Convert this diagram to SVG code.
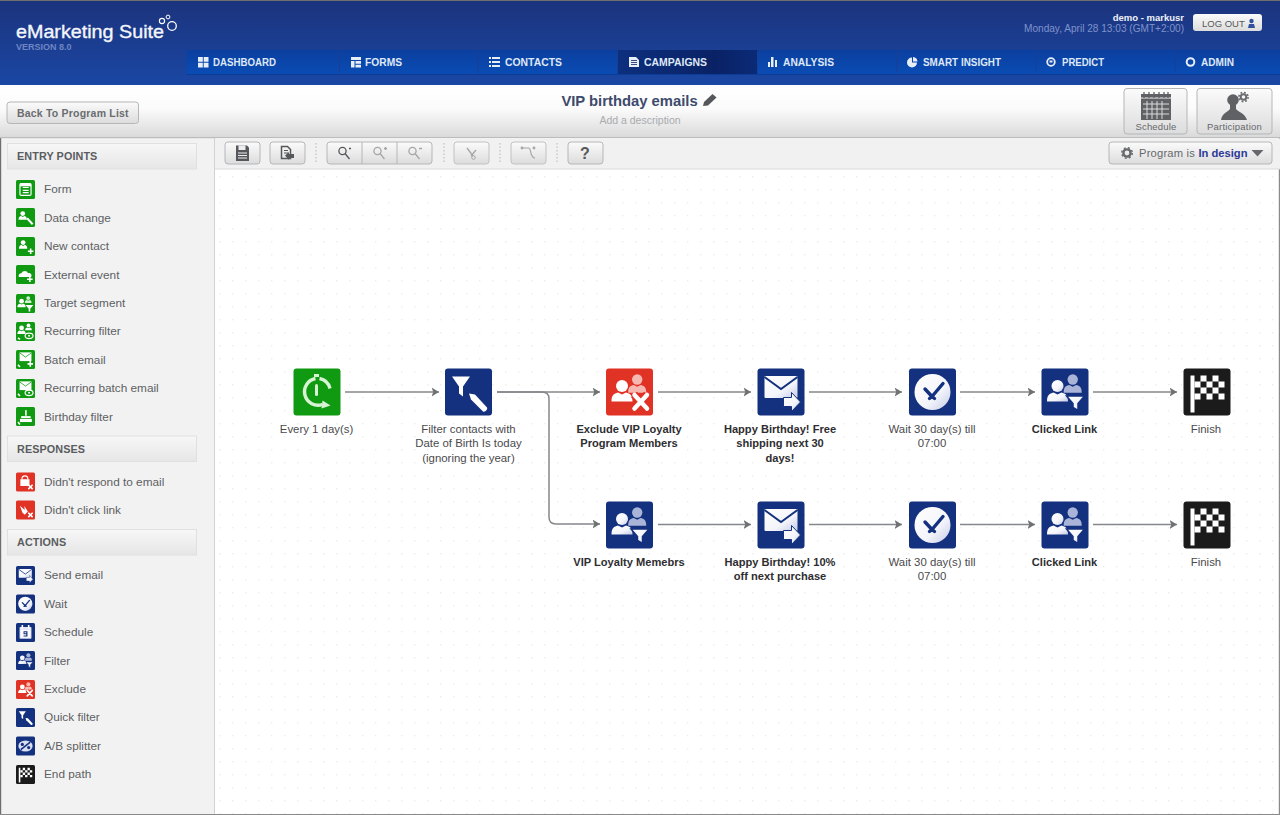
<svg xmlns="http://www.w3.org/2000/svg" width="1280" height="815" viewBox="0 0 1280 815">
<style>
text{font-family:"Liberation Sans",Arial,sans-serif}
.nav{font-size:10px;font-weight:700;fill:#dfe8f6}
.navi{fill:#e8eef8}
.side{font-size:11.8px;fill:#5d5f63}
.head{font-size:10.8px;font-weight:700;fill:#5a5c5f;letter-spacing:.1px}
.lbl{font-size:11.4px;fill:#4a4a4d;text-anchor:middle}
.b{font-size:11.1px;font-weight:700;fill:#2e2e30}
.btn{fill:url(#btn);stroke:#b4b6b8;stroke-width:1}
.btnd{fill:url(#btn);stroke:#c0c2c4;stroke-width:1}
.tool{fill:#55575a}
.conn{fill:none;stroke:#85878a;stroke-width:1.5;marker-end:url(#arrow)}
.g{fill:#0f9a12}.n{fill:#14317f}.r{fill:#e03225}.k{fill:#1b1b1b}
</style>
<defs>
<linearGradient id="hdr" x1="0" y1="0" x2="0" y2="1"><stop offset="0" stop-color="#1c337c"/><stop offset="1" stop-color="#1a47a4"/></linearGradient>
<linearGradient id="navg" x1="0" y1="0" x2="0" y2="1"><stop offset="0" stop-color="#0b3f9f"/><stop offset="1" stop-color="#0a4cb4"/></linearGradient>
<linearGradient id="nava" x1="0" y1="0" x2="1" y2="0"><stop offset="0" stop-color="#0d2f7e"/><stop offset=".7" stop-color="#0a2265"/><stop offset="1" stop-color="#0a2a78"/></linearGradient>
<linearGradient id="bar" x1="0" y1="0" x2="0" y2="1"><stop offset="0" stop-color="#ffffff"/><stop offset=".45" stop-color="#fbfbfb"/><stop offset="1" stop-color="#d9d9da"/></linearGradient>
<linearGradient id="btn" x1="0" y1="0" x2="0" y2="1"><stop offset="0" stop-color="#fbfbfb"/><stop offset="1" stop-color="#dcdcdc"/></linearGradient>
<linearGradient id="sh" x1="0" y1="0" x2="0" y2="1"><stop offset="0" stop-color="#f7f7f7"/><stop offset="1" stop-color="#e6e6e6"/></linearGradient>
<linearGradient id="wg" x1="0" y1="0" x2="1" y2="1"><stop offset="0" stop-color="#ffffff"/><stop offset=".6" stop-color="#f4f5fb"/><stop offset="1" stop-color="#c5cbe6"/></linearGradient>
<pattern id="dots" x="219" y="176" width="13" height="13" patternUnits="userSpaceOnUse"><rect width="1.4" height="1.4" fill="#ececec"/></pattern>
<marker id="arrow" markerWidth="10" markerHeight="10" refX="7.5" refY="4.5" orient="auto" markerUnits="userSpaceOnUse"><path d="M0 0L7.500 4.500L0 9L1.800 4.500Z" fill="#6f7174"/></marker>
<g id="person"><circle cx="0" cy="-6" r="6"/><path d="M-10.500 9.500C-10.500 3-8 1.500-4 .5L0 2.500L4 .5C8 1.500 10.500 3 10.500 9.500Z"/></g>
<g id="mail"><rect x="7" y="7.500" width="33" height="22" rx="1" fill="url(#wg)"/><path d="M7 8.500L23.500 20.500L40 8.500" fill="none" stroke="#14317f" stroke-width="2"/><path d="M26 29H34V24L43 33.500L34 43V38H26Z" fill="url(#wg)" stroke="#14317f" stroke-width="1"/></g>
<g id="clock"><circle cx="23.500" cy="23.500" r="18" fill="url(#wg)"/><path d="M23 28L34 15M23 28L16 20.500M23 28L20.500 30M23 28L25.500 30" stroke="#14317f" stroke-width="3.400" stroke-linecap="round" fill="none"/></g>
<g id="filterp"><use href="#person" x="27" y="13" transform="translate(8 5) scale(.86)" fill="#a9b4d8"/><use href="#person" x="16" y="23.500" fill="url(#wg)"/><path d="M25 27.500H43L36.500 35V42L31.500 39V35Z" fill="url(#wg)" stroke="#14317f" stroke-width="1.500"/></g>
<g id="excl"><use href="#person" x="27" y="13" transform="translate(8 5) scale(.86)" fill="#f6b9b2"/><use href="#person" x="16" y="23.500" fill="#fff"/><path d="M28 26L41 40M41 26L28 40" stroke="#e03225" stroke-width="8"/><path d="M28.500 26.500L41 40M41 26.500L28.500 40" stroke="#fff" stroke-width="4.500" stroke-linecap="round"/></g>
<g id="quick"><path d="M7 8H25L18 18V28L14 25V18Z" fill="#fff"/><path d="M24 25L30 26L42 39C43 41 40 44 38 43L26 31Z" fill="#fff"/></g>
<g id="recur"><g fill="none" stroke="#d8f2d4" stroke-width="3.400"><path d="M22 10A13.500 13.500 0 1 0 29 36"/><path d="M26 10A13.500 13.500 0 0 1 36.500 20"/></g><path d="M20.500 5.500H25.500V8.500H20.500Z" fill="#d8f2d4"/><path d="M23 17V26" stroke="#d8f2d4" stroke-width="3" stroke-linecap="round"/><path d="M29 32L37 37L28 40Z" fill="#d8f2d4"/></g>
<g id="flag"><rect x="7" y="7" width="4" height="37" fill="#fff"/><path fill="#fff" d="M17 7h6v6h-6zM29 7h6v6h-6zM11 13h6v6h-6zM23 13h6v6h-6zM35 13h6v6h-6zM17 19h6v6h-6zM29 19h6v6h-6zM11 25h6v6h-6zM23 25h6v6h-6zM35 25h6v6h-6z"/></g>
<g id="s-form"><rect x="10" y="9" width="28" height="30" rx="3" fill="none" stroke="#fff" stroke-width="3"/><path d="M17 19H32M17 26H32M17 32H32" stroke="#fff" stroke-width="3"/><rect x="10" y="9" width="28" height="7" fill="#fff"/></g>
<g id="s-data"><use href="#person" x="17" y="20" fill="#fff"/><path d="M28 26L42 41" stroke="#fff" stroke-width="5"/></g>
<g id="s-new"><use href="#person" x="18" y="20" fill="#fff"/><path d="M37 29V43M30 36H44" stroke="#fff" stroke-width="4"/></g>
<g id="s-ext"><path d="M7 30C5 23 11 20 14 21C16 13 28 13 30 20C37 19 42 25 38 30Z" fill="#fff"/><path d="M35 29V43M28 36H42" stroke="#fff" stroke-width="4"/></g>
<g id="s-tgt"><use href="#person" x="14" y="24" fill="#fff"/><use href="#person" x="31" y="15" transform="translate(6 3) scale(.8)" fill="#d5f0d2"/><path d="M24 28H44L36 37V44H32V37Z" fill="#fff"/></g>
<g id="s-rec"><use href="#person" x="14" y="21" fill="#fff"/><use href="#person" x="32" y="13" transform="translate(6 3) scale(.8)" fill="#fff"/><ellipse cx="33" cy="35" rx="10" ry="7" fill="none" stroke="#fff" stroke-width="3"/><circle cx="33" cy="35" r="2.500" fill="#fff"/><path d="M5 40L10 44" stroke="#fff" stroke-width="4"/></g>
<g id="s-bat"><rect x="9" y="6" width="30" height="22" fill="#fff"/><path d="M9 7L24 18L39 7" stroke="#0f9a12" stroke-width="2" fill="none"/><path d="M36 28V42M29 35H43" stroke="#fff" stroke-width="4"/><path d="M5 37L10 43" stroke="#fff" stroke-width="4"/></g>
<g id="s-rbt"><rect x="9" y="6" width="30" height="22" fill="#fff"/><path d="M9 7L24 18L39 7" stroke="#0f9a12" stroke-width="2" fill="none"/><ellipse cx="33" cy="35" rx="10" ry="7" fill="none" stroke="#fff" stroke-width="3"/><circle cx="33" cy="35" r="2.500" fill="#fff"/><path d="M5 37L10 43" stroke="#fff" stroke-width="4"/></g>
<g id="s-bir"><rect x="10" y="30" width="30" height="8" fill="#fff"/><rect x="13" y="23" width="24" height="5" fill="#fff"/><rect x="23" y="8" width="4" height="14" fill="#fff"/><path d="M5 38L10 44" stroke="#fff" stroke-width="4"/></g>
<g id="s-resp"><rect x="11" y="17" width="23" height="17" fill="#fff"/><path d="M15 17C15 6 30 6 30 17" fill="none" stroke="#fff" stroke-width="3"/><path d="M31 31L42 42M42 31L31 42" stroke="#fff" stroke-width="4"/></g>
<g id="s-link"><path d="M10 13L22 24L21 14L30 28L22 36L16 30Z" fill="#fff"/><path d="M31 31L42 42M42 31L31 42" stroke="#fff" stroke-width="4"/></g>
<g id="s-sch"><rect x="9" y="10" width="30" height="30" rx="2" fill="#dfe4f2"/><rect x="14" y="5" width="4" height="9" fill="#fff"/><rect x="30" y="5" width="4" height="9" fill="#fff"/><rect x="12" y="17" width="24" height="20" fill="#fff"/><path d="M19 21h10v13h-10v-2.500h7v-3h-7zM21.500 23.500v2.500h4.500v-2.500z" fill="#14317f" fill-rule="evenodd"/></g>
<g id="s-ab"><ellipse cx="24" cy="24" rx="18" ry="14" fill="#d9dff0"/><path d="M12 33L36 14" stroke="#14317f" stroke-width="4"/><circle cx="16" cy="20" r="4" fill="#14317f"/><circle cx="32" cy="28" r="4" fill="#14317f"/></g>
</defs>

<g id="background">
<rect width="1280" height="815" fill="#ffffff"/>
<rect x="216" y="170" width="1062" height="644" fill="url(#dots)"/>
<rect x="0" y="138" width="214" height="677" fill="#f2f2f2"/>
<rect x="214" y="138" width="1" height="677" fill="#d2d2d2"/>
<rect x="0" y="0" width="1.200" height="815" fill="#6e6e6e"/>
<rect x="1278.800" y="0" width="1.200" height="815" fill="#8a8a8a"/>
<rect x="0" y="814" width="1280" height="1" fill="#8a8a8a"/>
</g>

<g id="header">
<rect x="0" y="0" width="1280" height="85" fill="url(#hdr)"/>
<rect x="0" y="0" width="1280" height="1" fill="#6f6f6f"/>
<text x="16" y="37.500" font-size="18.500" fill="#f4f6fb" textLength="148" lengthAdjust="spacingAndGlyphs" stroke="#f4f6fb" stroke-width=".35">eMarketing Suite</text>
<circle cx="172" cy="26" r="4.300" fill="none" stroke="#fff" stroke-width="1.300"/><circle cx="162" cy="21" r="2.600" fill="none" stroke="#fff" stroke-width="1.100"/><circle cx="168" cy="17" r="1.900" fill="none" stroke="#fff" stroke-width="1"/>
<text x="16" y="49.500" font-size="9" font-weight="700" fill="#6f86c4">VERSION 8.0</text>
<text x="1184" y="21" font-size="9.500" font-weight="700" fill="#eef2fa" text-anchor="end">demo - markusr</text>
<text x="1184" y="32" font-size="10.100" fill="#7f93cb" text-anchor="end">Monday, April 28 13:03 (GMT+2:00)</text>
<rect x="1193" y="14" width="69" height="17" rx="3" fill="url(#btn)"/>
<text x="1202" y="27" font-size="9.500" fill="#55575a">LOG OUT</text>
<circle cx="1251.500" cy="21" r="2.200" fill="#33509a"/><path d="M1248 28L1249 24H1254L1255 28Z" fill="#33509a"/>
</g>

<g id="navigation">
<rect x="186" y="50" width="1094" height="24" fill="url(#navg)"/>
<rect x="186" y="74" width="1094" height="1" fill="#0c3c96"/>
<rect x="617.500" y="50" width="140" height="24" fill="url(#nava)"/>
<path d="M339.500 51V73M478 51V73M617.500 51V73M757.500 51V73M897 51V73M1036 51V73M1175 51V73" stroke="#1a3f92" stroke-width="1"/>
<path class="navi" d="M198 57h4.800v4.800H198zM203.700 57h4.800v4.800h-4.800zM198 62.700h4.800v4.800H198zM203.700 62.700h4.800v4.800h-4.800z"/>
<text class="nav" x="213" y="66" textLength="63" lengthAdjust="spacingAndGlyphs">DASHBOARD</text>
<path class="navi" d="M351 57h10v3h-10zM351 61h3.500v6.500H351zM355.500 61H361v2.800h-5.500zM355.500 64.800H361v2.700h-5.500z"/>
<text class="nav" x="365" y="66" textLength="37" lengthAdjust="spacingAndGlyphs">FORMS</text>
<path class="navi" d="M489 57h2v2h-2zM492 57h8v2h-8zM489 61h2v2h-2zM492 61h8v2h-8zM489 65h2v2h-2zM492 65h8v2h-8z"/>
<text class="nav" x="505" y="66" textLength="57" lengthAdjust="spacingAndGlyphs">CONTACTS</text>
<path class="navi" d="M629 57h7l3 3v7h-10z"/><path d="M631 60.500h6M631 62.500h6M631 64.500h6" stroke="#0a2265" stroke-width=".8"/>
<text class="nav" x="644" y="66" textLength="63" lengthAdjust="spacingAndGlyphs">CAMPAIGNS</text>
<path class="navi" d="M768 62h2v5h-2zM771 57h2.500v10H771zM775 60h2v7h-2z"/>
<text class="nav" x="783" y="66" textLength="51" lengthAdjust="spacingAndGlyphs">ANALYSIS</text>
<path class="navi" d="M912 57.500A5 5 0 1 0 917 62.500H912Z"/><path class="navi" d="M913 57A5 5 0 0 1 917.500 61.500H913Z"/>
<text class="nav" x="923" y="66" textLength="78" lengthAdjust="spacingAndGlyphs">SMART INSIGHT</text>
<circle cx="1051" cy="62" r="3.800" fill="none" stroke="#e8eef8" stroke-width="1.800"/><rect x="1049.500" y="60.500" width="3" height="2" fill="#e8eef8"/>
<text class="nav" x="1062" y="66" textLength="42" lengthAdjust="spacingAndGlyphs">PREDICT</text>
<circle cx="1190.500" cy="62" r="3.800" fill="none" stroke="#e8eef8" stroke-width="2"/>
<text class="nav" x="1201" y="66" textLength="33" lengthAdjust="spacingAndGlyphs">ADMIN</text>
</g>

<g id="titlebar">
<rect x="0" y="85" width="1280" height="53" fill="url(#bar)"/>
<rect x="0" y="137" width="1280" height="1.200" fill="#bcbcbc"/>
<rect class="btn" x="7" y="102" width="131.500" height="21.500" rx="3"/>
<text x="17" y="117" font-size="10.500" font-weight="700" fill="#6a6c6f" letter-spacing=".2">Back To Program List</text>
<text x="629.500" y="106" font-size="14.800" font-weight="700" fill="#3c4a6c" text-anchor="middle">VIP birthday emails</text>
<path d="M703 106L704 102L712.500 94L716.500 97.500L708 105.500Z" fill="#55575a"/>
<text x="640" y="124" font-size="10.500" fill="#a9abad" text-anchor="middle">Add a description</text>
<rect class="btn" x="1124" y="88.500" width="63" height="45.500" rx="3"/>
<rect x="1141" y="94" width="30" height="26" fill="#5f6165"/>
<path d="M1141 98h30" stroke="#f4f4f4" stroke-width="1"/>
<path d="M1144 92v6M1149 92v6M1154 92v6M1159 92v6M1164 92v6M1168 92v6" stroke="#5f6165" stroke-width="1.300"/>
<path d="M1143 104h26M1143 109h26M1143 114h26M1147 101v18M1152 101v18M1157 101v18M1162 101v18" stroke="#dcdcdc" stroke-width="1"/>
<text x="1156" y="130" font-size="9.500" fill="#66686b" text-anchor="middle" letter-spacing=".2">Schedule</text>
<rect class="btn" x="1197" y="88.500" width="75" height="45.500" rx="3"/>
<circle cx="1233" cy="100" r="5.800" fill="#5f6165"/><path d="M1221 120C1222 113 1228 112 1230 109V104H1236V109C1238 112 1245 113 1247 120Z" fill="#5f6165"/>
<circle cx="1243.500" cy="97" r="2.800" fill="none" stroke="#6a6c70" stroke-width="2"/><circle cx="1243.500" cy="97" r="4.600" fill="none" stroke="#6a6c70" stroke-width="1.600" stroke-dasharray="1.800 1.800"/>
<text x="1234.500" y="130" font-size="9.500" fill="#66686b" text-anchor="middle" letter-spacing=".2">Participation</text>
</g>

<g id="toolbar">
<rect x="215" y="138.500" width="1065" height="30.500" fill="#f1f1f1"/>
<rect x="215" y="168.500" width="1065" height="1" fill="#dadada"/>
<rect class="btn" x="225" y="142" width="35" height="22" rx="3"/>
<path class="tool" d="M236 145.500h11l2 2v13.500h-13z"/><rect x="238.500" y="145.500" width="7" height="4.500" fill="#eee"/><path d="M238 153h9M238 155.500h9M238 158h9" stroke="#eee" stroke-width="1"/>
<rect class="btn" x="270" y="142" width="35" height="22" rx="3"/>
<path d="M281.500 146.500h6l3 3v9h-9z" fill="none" stroke="#55575a" stroke-width="1.500"/><path d="M284 150.500h4M284 153h4" stroke="#55575a"/><path class="tool" d="M285 155.500l4-3.500v2h5v4h-5v2z"/>
<rect class="btn" x="327" y="142" width="105" height="22" rx="3"/>
<path d="M362 142V164M397 142V164" stroke="#b4b6b8"/>
<g fill="none" stroke="#55575a" stroke-width="1.300"><circle cx="342.500" cy="151" r="3.600"/><path d="M345 153.500L349.500 159M349 148.500h2"/></g>
<g fill="none" stroke="#a4a6a8" stroke-width="1.300"><circle cx="377.500" cy="151" r="3.600"/><path d="M380 153.500L384.500 159M384 148.500h3M385.500 147v3"/><circle cx="412.500" cy="151" r="3.600"/><path d="M415 153.500L419.500 159M419 148.500h3"/></g>
<rect class="btnd" x="454" y="142" width="35" height="22" rx="3"/>
<path d="M467 148L473 156M476 150L471 156" stroke="#a4a6a8" stroke-width="1.300"/><circle cx="473.500" cy="157.500" r="1.800" fill="none" stroke="#a4a6a8"/>
<rect class="btnd" x="511" y="142" width="35" height="22" rx="3"/>
<path d="M522 148H529C531 148 530 158 535 158" fill="none" stroke="#a4a6a8" stroke-width="1.200"/><circle cx="522" cy="148" r="1.400" fill="#a4a6a8"/><circle cx="534" cy="148" r="1.400" fill="#a4a6a8"/>
<rect class="btn" x="568" y="142" width="35" height="22" rx="3"/>
<text x="585" y="159" font-size="16" font-weight="700" fill="#55575a" text-anchor="middle">?</text>
<path d="M316 143V164M444 143V164M500 143V164M557 143V164" stroke="#b6b6b6" stroke-dasharray="1.500 2"/>
<rect class="btn" x="1109" y="142" width="163" height="22" rx="3"/>
<circle cx="1127" cy="153" r="3.600" fill="none" stroke="#66686b" stroke-width="2.400"/><circle cx="1127" cy="153" r="5.300" fill="none" stroke="#66686b" stroke-width="1.400" stroke-dasharray="2 2.200"/>
<text x="1139" y="157" font-size="11.200" fill="#66686b" letter-spacing=".2">Program is <tspan font-weight="700" fill="#2c3a96" letter-spacing="0">In design</tspan></text>
<path d="M1251.500 150H1263.500L1257.500 156.500Z" fill="#66686b"/>
</g>

<g id="sidebar">
<g id="panel-entry">
<rect x="7.500" y="143.500" width="189" height="25.500" fill="url(#sh)" stroke="#e0e0e0"/>
<text class="head" x="17" y="160">ENTRY POINTS</text>
</g>
<g id="side-form"><rect class="g" x="16" y="180" width="19" height="19" rx="1.500"/><use href="#s-form" transform="translate(16 180) scale(.396)"/><text class="side" x="44" y="193">Form</text></g>
<g id="side-data"><rect class="g" x="16" y="208" width="19" height="19" rx="1.500"/><use href="#s-data" transform="translate(16 208) scale(.396)"/><text class="side" x="44" y="221.500">Data change</text></g>
<g id="side-new"><rect class="g" x="16" y="237" width="19" height="19" rx="1.500"/><use href="#s-new" transform="translate(16 237) scale(.396)"/><text class="side" x="44" y="250">New contact</text></g>
<g id="side-ext"><rect class="g" x="16" y="265" width="19" height="19" rx="1.500"/><use href="#s-ext" transform="translate(16 265) scale(.396)"/><text class="side" x="44" y="278.500">External event</text></g>
<g id="side-tgt"><rect class="g" x="16" y="294" width="19" height="19" rx="1.500"/><use href="#s-tgt" transform="translate(16 294) scale(.396)"/><text class="side" x="44" y="307">Target segment</text></g>
<g id="side-rec"><rect class="g" x="16" y="322" width="19" height="19" rx="1.500"/><use href="#s-rec" transform="translate(16 322) scale(.396)"/><text class="side" x="44" y="335">Recurring filter</text></g>
<g id="side-bat"><rect class="g" x="16" y="350" width="19" height="19" rx="1.500"/><use href="#s-bat" transform="translate(16 350) scale(.396)"/><text class="side" x="44" y="363.500">Batch email</text></g>
<g id="side-rbt"><rect class="g" x="16" y="379" width="19" height="19" rx="1.500"/><use href="#s-rbt" transform="translate(16 379) scale(.396)"/><text class="side" x="44" y="392">Recurring batch email</text></g>
<g id="side-bir"><rect class="g" x="16" y="407" width="19" height="19" rx="1.500"/><use href="#s-bir" transform="translate(16 407) scale(.396)"/><text class="side" x="44" y="420.500">Birthday filter</text></g>
<g id="panel-resp">
<rect x="7.500" y="436" width="189" height="25.500" fill="url(#sh)" stroke="#e0e0e0"/>
<text class="head" x="17" y="452.500">RESPONSES</text>
</g>
<g id="side-resp"><rect class="r" x="16" y="472.500" width="19" height="19" rx="1.500"/><use href="#s-resp" transform="translate(16 472.500) scale(.396)"/><text class="side" x="44" y="485.500">Didn't respond to email</text></g>
<g id="side-link"><rect class="r" x="16" y="500.500" width="19" height="19" rx="1.500"/><use href="#s-link" transform="translate(16 500.500) scale(.396)"/><text class="side" x="44" y="514">Didn't click link</text></g>
<g id="panel-act">
<rect x="7.500" y="529.500" width="189" height="25.500" fill="url(#sh)" stroke="#e0e0e0"/>
<text class="head" x="17" y="546">ACTIONS</text>
</g>
<g id="side-send"><rect class="n" x="16" y="566" width="19" height="19" rx="1.500"/><use href="#mail" transform="translate(16 566) scale(.396)"/><text class="side" x="44" y="579">Send email</text></g>
<g id="side-wait"><rect class="n" x="16" y="594.500" width="19" height="19" rx="1.500"/><use href="#clock" transform="translate(16 594.500) scale(.396)"/><text class="side" x="44" y="607.500">Wait</text></g>
<g id="side-sch"><rect class="n" x="16" y="623" width="19" height="19" rx="1.500"/><use href="#s-sch" transform="translate(16 623) scale(.396)"/><text class="side" x="44" y="636">Schedule</text></g>
<g id="side-fil"><rect class="n" x="16" y="651" width="19" height="19" rx="1.500"/><use href="#filterp" transform="translate(16 651) scale(.396)"/><text class="side" x="44" y="664.500">Filter</text></g>
<g id="side-exc"><rect class="r" x="16" y="680" width="19" height="19" rx="1.500"/><use href="#excl" transform="translate(16 680) scale(.396)"/><text class="side" x="44" y="693">Exclude</text></g>
<g id="side-qf"><rect class="n" x="16" y="708" width="19" height="19" rx="1.500"/><use href="#quick" transform="translate(16 708) scale(.396)"/><text class="side" x="44" y="721">Quick filter</text></g>
<g id="side-ab"><rect class="n" x="16" y="736.500" width="19" height="19" rx="1.500"/><use href="#s-ab" transform="translate(16 736.500) scale(.396)"/><text class="side" x="44" y="749.500">A/B splitter</text></g>
<g id="side-end"><rect class="k" x="16" y="765" width="19" height="19" rx="1.500"/><use href="#flag" transform="translate(16 765) scale(.396)"/><text class="side" x="44" y="778">End path</text></g>
</g>

<g id="connectors">
<path class="conn" d="M345 392H439"/>
<path class="conn" d="M497 392H600"/>
<path class="conn" d="M497 392H542Q549 392 549 399V517Q549 524 556 524H600"/>
<path class="conn" d="M658 392H751"/>
<path class="conn" d="M809 392H902"/>
<path class="conn" d="M960 392H1035"/>
<path class="conn" d="M1093 392H1177"/>
<path class="conn" d="M658 524.500H751"/>
<path class="conn" d="M809 524.500H902"/>
<path class="conn" d="M960 524.500H1035"/>
<path class="conn" d="M1093 524.500H1177"/>
</g>

<g id="node-every"><rect class="g" x="293.500" y="368.500" width="47" height="47" rx="3"/><use href="#recur" transform="translate(293.500 368.500)"/><text class="lbl" x="316.500" y="433">Every 1 day(s)</text></g>
<g id="node-filter"><rect class="n" x="445" y="368.500" width="47" height="47" rx="3"/><use href="#quick" transform="translate(445 368.500)"/><text class="lbl" x="468.500" y="433">Filter contacts with</text><text class="lbl" x="468.500" y="447">Date of Birth Is today</text><text class="lbl" x="468.500" y="461.500">(ignoring the year)</text></g>
<g id="node-exclude"><rect class="r" x="606" y="368.500" width="47" height="47" rx="3"/><use href="#excl" transform="translate(606 368.500)"/><text class="lbl b" x="629" y="433">Exclude VIP Loyalty</text><text class="lbl b" x="629" y="447">Program Members</text></g>
<g id="node-mail1"><rect class="n" x="757.500" y="368.500" width="47" height="47" rx="3"/><use href="#mail" transform="translate(757.500 368.500)"/><text class="lbl b" x="780" y="433">Happy Birthday! Free</text><text class="lbl b" x="780" y="447">shipping next 30</text><text class="lbl b" x="780" y="461.500">days!</text></g>
<g id="node-wait1"><rect class="n" x="909" y="368.500" width="47" height="47" rx="3"/><use href="#clock" transform="translate(909 368.500)"/><text class="lbl" x="932" y="433">Wait 30 day(s) till</text><text class="lbl" x="932" y="447">07:00</text></g>
<g id="node-click1"><rect class="n" x="1041.500" y="368.500" width="47" height="47" rx="3"/><use href="#filterp" transform="translate(1041.500 368.500)"/><text class="lbl b" x="1064.500" y="433">Clicked Link</text></g>
<g id="node-finish1"><rect class="k" x="1183.500" y="368.500" width="47" height="47" rx="3"/><use href="#flag" transform="translate(1183.500 368.500)"/><text class="lbl" x="1206" y="433">Finish</text></g>
<g id="node-vip"><rect class="n" x="606" y="501.500" width="47" height="47" rx="3"/><use href="#filterp" transform="translate(606 501.500)"/><text class="lbl b" x="629" y="566">VIP Loyalty Memebrs</text></g>
<g id="node-mail2"><rect class="n" x="757.500" y="501.500" width="47" height="47" rx="3"/><use href="#mail" transform="translate(757.500 501.500)"/><text class="lbl b" x="780" y="566">Happy Birthday! 10%</text><text class="lbl b" x="780" y="580">off next purchase</text></g>
<g id="node-wait2"><rect class="n" x="909" y="501.500" width="47" height="47" rx="3"/><use href="#clock" transform="translate(909 501.500)"/><text class="lbl" x="932" y="566">Wait 30 day(s) till</text><text class="lbl" x="932" y="580">07:00</text></g>
<g id="node-click2"><rect class="n" x="1041.500" y="501.500" width="47" height="47" rx="3"/><use href="#filterp" transform="translate(1041.500 501.500)"/><text class="lbl b" x="1064.500" y="566">Clicked Link</text></g>
<g id="node-finish2"><rect class="k" x="1183.500" y="501.500" width="47" height="47" rx="3"/><use href="#flag" transform="translate(1183.500 501.500)"/><text class="lbl" x="1206" y="566">Finish</text></g>
</svg>
